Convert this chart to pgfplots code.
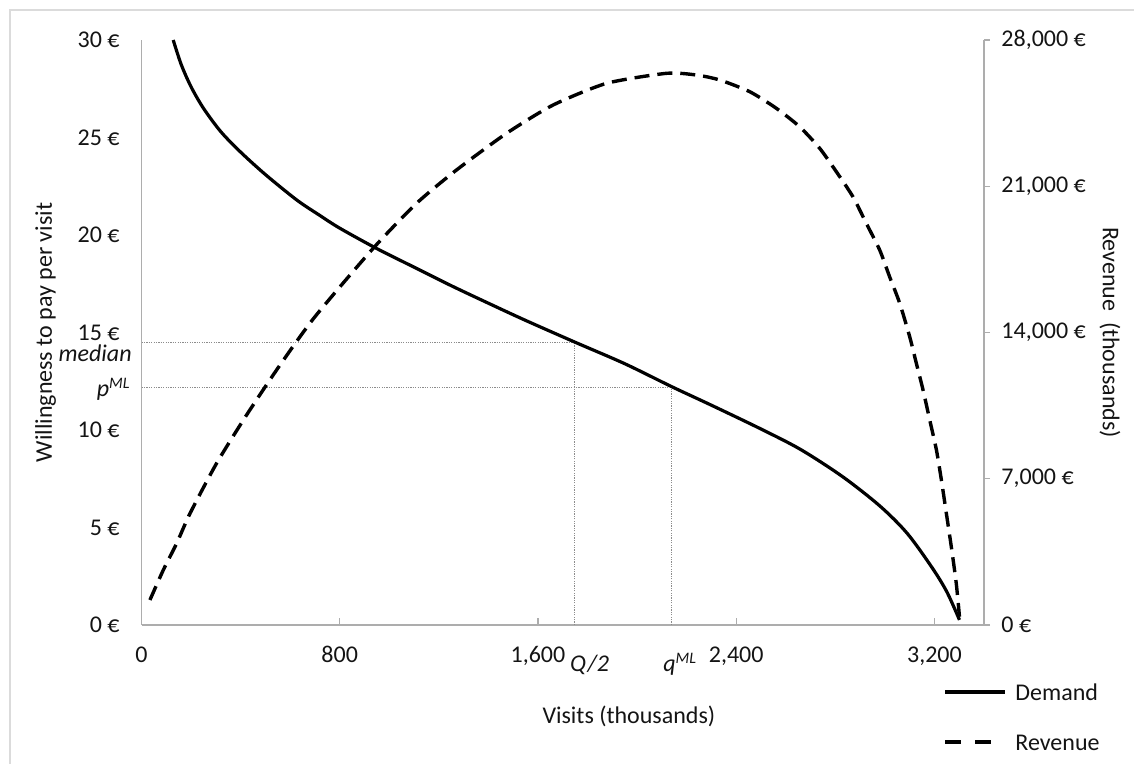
\documentclass[border=0pt]{standalone}
\usepackage{fontspec}
\setmainfont{Carlito}
\usepackage{pgfplots}
\pgfplotsset{compat=1.18}

\definecolor{axisgray}{gray}{0.68}
\definecolor{framegray}{gray}{0.86}
\definecolor{refgray}{gray}{0.55}
\definecolor{txt}{gray}{0.08}

\begin{document}
\begin{tikzpicture}[font=\fontsize{12}{14}\selectfont, text=txt]
\useasboundingbox (0,0) rectangle (567pt,382pt);
% chart area frame (top and left edges visible)
\draw[framegray, line width=0.8pt] (5pt,0pt) -- (5pt,377pt) -- (567pt,377pt);

\begin{axis}[
  at={(70.75pt,69.5pt)}, anchor=south west,
  scale only axis, width=421.25pt, height=292.5pt,
  xmin=0, xmax=3400, ymin=0, ymax=30,
  axis x line*=bottom, axis y line*=left,
  axis line style={draw=axisgray, line width=0.7pt},
  clip=false,
  xtick={0,800,1600,2400,3200},
  xticklabels={0,800,{1,600},{2,400},{3,200}},
  x tick style={draw=axisgray, line width=0.6pt},
  tick align=inside,
  major tick length=3.5pt,
  xticklabel style={anchor=base, inner sep=0pt, yshift=-19pt, font=\fontsize{12}{14}\selectfont, text=txt},
  ytick={0,5,10,15,20,25,30},
  yticklabels={0 €,5 €,10 €,15 €,20 €,25 €,30 €},
  y tick style={draw=none},
  yticklabel style={anchor=east, inner sep=0pt, xshift=-10.75pt, font=\fontsize{12}{14}\selectfont, text=txt},
]
% reference lines
\addplot[refgray, line width=0.5pt, dash pattern=on 0.6pt off 0.6pt] coordinates {(0,14.5) (1749,14.5)};
\addplot[refgray, line width=0.5pt, dash pattern=on 0.6pt off 0.6pt] coordinates {(1749,0) (1749,14.5)};
\addplot[refgray, line width=0.5pt, dash pattern=on 0.6pt off 0.6pt] coordinates {(0,12.2) (2140,12.2)};
\addplot[refgray, line width=0.5pt, dash pattern=on 0.6pt off 0.6pt] coordinates {(2140,0) (2140,12.2)};
% demand
\addplot[black, line width=1.6pt, smooth, tension=0.5] coordinates {
(128,30.00) (160,28.75) (200,27.60) (250,26.50) (320,25.30) (400,24.25)
(500,23.10) (626,21.80) (720,21.00) (800,20.35) (950,19.30) (1100,18.35)
(1250,17.40) (1400,16.50) (1550,15.62) (1750,14.50) (1950,13.40) (2140,12.22)
(2300,11.27) (2500,10.05) (2660,9.00) (2830,7.60) (2980,6.10) (3090,4.70)
(3190,2.95) (3250,1.70) (3301,0.26)
};
% annotations
\node[anchor=base east, inner sep=0pt, font=\fontsize{12}{14}\selectfont\itshape] at ([xshift=-4.75pt,yshift=-2pt]axis cs:0,13.74) {median};
\node[anchor=base east, inner sep=0pt, font=\fontsize{12}{14}\selectfont\itshape] at ([xshift=-5.25pt]axis cs:0,11.7) {p\textsuperscript{ML}};
\node[anchor=base west, inner sep=0pt, font=\fontsize{12}{14}\selectfont\itshape] at ([yshift=-23.5pt]axis cs:1728,0) {Q/2};
\node[anchor=base west, inner sep=0pt, font=\fontsize{12}{14}\selectfont\itshape] at ([yshift=-23.5pt]axis cs:2104,0) {q\textsuperscript{ML}};
\node[anchor=base, inner sep=0pt] at ([yshift=-49.5pt]axis cs:1967,0) {Visits (thousands)};
\node[rotate=90, inner sep=0pt] at ([xshift=-48pt]rel axis cs:0,0.5) {Willingness to pay per visit};
% legend
\draw[black, line width=1.6pt] (rel axis cs:0.9537,-0.1145) -- (rel axis cs:1.0249,-0.1145);
\node[anchor=base west, inner sep=0pt] at (rel axis cs:1.0368,-0.1299) {Demand};
\draw[black, line width=1.6pt, dash pattern=on 8pt off 7pt] (rel axis cs:0.9537,-0.200) -- (rel axis cs:1.0083,-0.200);
\node[anchor=base west, inner sep=0pt] at (rel axis cs:1.0368,-0.2137) {Revenue};
\end{axis}

\begin{axis}[
  at={(70.75pt,69.5pt)}, anchor=south west,
  scale only axis, width=421.25pt, height=292.5pt,
  xmin=0, xmax=3400, ymin=0, ymax=28000,
  axis x line=none, axis y line*=right,
  axis line style={draw=axisgray, line width=0.7pt},
  clip=false,
  scaled y ticks=false,
  ytick={0,7000,14000,21000,28000},
  yticklabels={0 €,{7,000 €},{14,000 €},{21,000 €},{28,000 €}},
  tick align=outside,
  major tick length=3pt,
  y tick style={draw=axisgray, line width=0.6pt},
  yticklabel style={anchor=west, inner sep=0pt, xshift=5.5pt, font=\fontsize{12}{14}\selectfont, text=txt},
]
\addplot[black, line width=1.7pt, smooth, tension=0.4, dash pattern=on 7.5pt off 4pt] coordinates {
(34,1197) (88,2632) (142,3910) (196,5346) (303,7739) (424,10050) (559,12444)
(700,14755) (935,18029) (1110,20183) (1271,21776) (1473,23532) (1661,24887)
(1877,25926) (2119,26405) (2240,26323) (2334,26084) (2455,25523) (2562,24730)
(2656,23848) (2737,22815) (2804,21697) (2871,20498) (2925,19224) (2979,17948)
(3019,16670) (3060,15396) (3100,13800) (3127,12525) (3154,11247) (3181,9811)
(3208,8376) (3228,6939) (3248,5346) (3268,3748) (3288,1994) (3301,396)
};
\node[rotate=-90, inner sep=0pt] at ([xshift=63pt]rel axis cs:1,0.5) {Revenue\ \ (thousands)};
\end{axis}
\end{tikzpicture}
\end{document}
